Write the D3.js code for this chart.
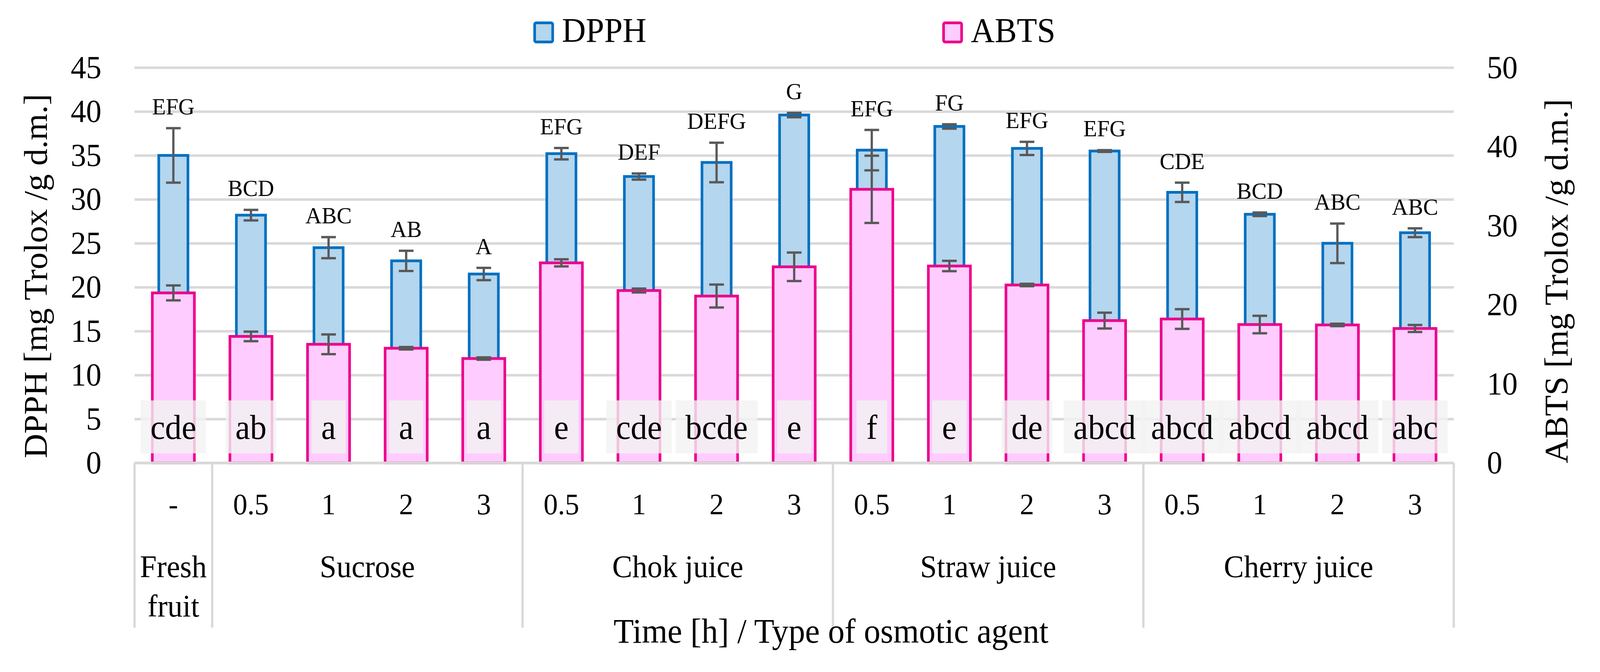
<!DOCTYPE html>
<html>
<head>
<meta charset="utf-8">
<script src="https://cdn.jsdelivr.net/npm/d3@7"></script>
<style>
  html, body { margin: 0; padding: 0; background: #fff; overflow: hidden; }
  #chart { width: 100vw; height: 100vh; }
  svg { display: block; width: 100%; height: 100%; font-family: "Liberation Serif", "Times New Roman", serif; }
</style>
</head>
<body>
<div id="chart"></div>
<script>
// categories (two-level axis)
const timeLabels = ['-', '0.5', '1', '2', '3', '0.5', '1', '2', '3', '0.5', '1', '2', '3', '0.5', '1', '2', '3'];
const agentLabels = ['Fresh fruit',
    'Sucrose', 'Sucrose', 'Sucrose', 'Sucrose',
    'Chok juice', 'Chok juice', 'Chok juice', 'Chok juice',
    'Straw juice', 'Straw juice', 'Straw juice', 'Straw juice',
    'Cherry juice', 'Cherry juice', 'Cherry juice', 'Cherry juice'];

// DPPH (left axis) and ABTS (right axis), mg Trolox / g d.m.
const dpph    = [35.0, 28.2, 24.5, 23.0, 21.5, 35.2, 32.6, 34.2, 39.6, 35.6, 38.3, 35.8, 35.5, 30.8, 28.3, 25.0, 26.2];
const dpphErr = [3.1, 0.6, 1.2, 1.15, 0.7, 0.65, 0.35, 2.25, 0.25, 2.3, 0.25, 0.75, 0.1, 1.1, 0.2, 2.25, 0.5];
const abts    = [21.5, 16.0, 15.0, 14.5, 13.2, 25.3, 21.8, 21.1, 24.8, 34.6, 24.9, 22.5, 18.0, 18.2, 17.5, 17.45, 17.0];
const abtsErr = [0.95, 0.6, 1.25, 0.15, 0.15, 0.45, 0.25, 1.45, 1.8, 4.25, 0.65, 0.15, 1.0, 1.25, 1.1, 0.15, 0.45];

const dpphLetters = ['EFG', 'BCD', 'ABC', 'AB', 'A', 'EFG', 'DEF', 'DEFG', 'G', 'EFG', 'FG', 'EFG', 'EFG', 'CDE', 'BCD', 'ABC', 'ABC'];
const abtsLetters = ['cde', 'ab', 'a', 'a', 'a', 'e', 'cde', 'bcde', 'e', 'f', 'e', 'de', 'abcd', 'abcd', 'abcd', 'abcd', 'abc'];

const leftTicks = d3.range(0, 46, 5);
const rightTicks = d3.range(0, 51, 10);

const W = 4257, H = 1721;
const margin = { top: 173, right: 389, bottom: 535.5, left: 358 };
const innerW = W - margin.left - margin.right;
const innerH = H - margin.top - margin.bottom;

const BLUE = '#0070C0', BLUE_FILL = '#B4D6EE';
const PINK = '#EC008C', PINK_FILL = '#FFCCFF';
const GRID = '#D9D9D9', ERR = '#595959';

const svg = d3.select('#chart').append('svg')
    .attr('viewBox', [0, 0, W, H])
    .attr('preserveAspectRatio', 'none');

const g = svg.append('g').attr('transform', `translate(${margin.left},${margin.top})`);

const x = d3.scaleBand().domain(d3.range(timeLabels.length)).range([0, innerW]);
const yL = d3.scaleLinear().domain([0, 45]).range([innerH, 0]);
const yR = d3.scaleLinear().domain([0, 50]).range([innerH, 0]);
const cx = i => x(i) + x.bandwidth() / 2;

// left axis with gridlines
const leftAxis = g.append('g')
    .call(d3.axisLeft(yL).tickValues(leftTicks).tickSize(-innerW).tickPadding(88));
leftAxis.select('.domain').remove();
leftAxis.selectAll('.tick line').attr('stroke', GRID).attr('stroke-width', 6.5);
leftAxis.selectAll('.tick text').attr('font-size', 82).attr('fill', '#000')
    .attr('font-family', '"Liberation Serif", serif');

// right axis (labels only)
const rightAxis = g.append('g').attr('transform', `translate(${innerW},0)`)
    .call(d3.axisRight(yR).tickValues(rightTicks).tickSize(0).tickPadding(88));
rightAxis.select('.domain').remove();
rightAxis.selectAll('.tick text').attr('font-size', 82).attr('fill', '#000')
    .attr('font-family', '"Liberation Serif", serif');

const bw = x.bandwidth();
const blueW = bw * 0.41 - 7;
const pinkW = bw * 0.576 - 7;
const capW = 39;

function errorBars(sel, vals, errs, scale) {
    const eg = sel.selectAll('g').data(vals).join('g')
        .attr('stroke', ERR).attr('stroke-width', 6);
    eg.append('line')
        .attr('x1', (d, i) => cx(i)).attr('x2', (d, i) => cx(i))
        .attr('y1', (d, i) => scale(d - errs[i])).attr('y2', (d, i) => scale(d + errs[i]));
    eg.append('line')
        .attr('x1', (d, i) => cx(i) - capW / 2).attr('x2', (d, i) => cx(i) + capW / 2)
        .attr('y1', (d, i) => scale(d + errs[i])).attr('y2', (d, i) => scale(d + errs[i]));
    eg.append('line')
        .attr('x1', (d, i) => cx(i) - capW / 2).attr('x2', (d, i) => cx(i) + capW / 2)
        .attr('y1', (d, i) => scale(d - errs[i])).attr('y2', (d, i) => scale(d - errs[i]));
}

// DPPH bars
g.append('g').selectAll('rect').data(dpph).join('rect')
    .attr('x', (d, i) => cx(i) - blueW / 2)
    .attr('width', blueW)
    .attr('y', d => yL(d))
    .attr('height', d => innerH - yL(d))
    .attr('fill', BLUE_FILL).attr('stroke', BLUE).attr('stroke-width', 7);
errorBars(g.append('g'), dpph, dpphErr, yL);

// ABTS bars
g.append('g').selectAll('rect').data(abts).join('rect')
    .attr('x', (d, i) => cx(i) - pinkW / 2)
    .attr('width', pinkW)
    .attr('y', d => yR(d))
    .attr('height', d => innerH - yR(d))
    .attr('fill', PINK_FILL).attr('stroke', PINK).attr('stroke-width', 7);
errorBars(g.append('g'), abts, abtsErr, yR);

// ABTS letters in translucent boxes
const lowG = g.append('g');
const lowItems = lowG.selectAll('g').data(abtsLetters).join('g');
lowItems.append('rect').attr('class', 'box');
lowItems.append('text')
    .attr('x', (d, i) => cx(i))
    .attr('y', innerH - 61.5)
    .attr('text-anchor', 'middle')
    .attr('font-size', 88)
    .text(d => d);
lowItems.each(function () {
    const t = d3.select(this).select('text');
    const tw = t.node().getComputedTextLength();
    d3.select(this).select('rect')
        .attr('x', +t.attr('x') - tw / 2 - 26)
        .attr('width', tw + 52)
        .attr('y', innerH - 160)
        .attr('height', 135.5)
        .attr('fill', '#F2F2F2').attr('fill-opacity', 0.8);
});

// DPPH letters above the error bars
g.append('g').selectAll('text').data(dpphLetters).join('text')
    .attr('x', (d, i) => cx(i))
    .attr('y', (d, i) => yL(dpph[i] + dpphErr[i]) - 35)
    .attr('text-anchor', 'middle')
    .attr('font-size', 60)
    .text(d => d);

// category axis
const axisG = g.append('g').attr('transform', `translate(0,${innerH})`);
axisG.append('line')
    .attr('x1', 0).attr('x2', innerW)
    .attr('stroke', GRID).attr('stroke-width', 6.5);

const groups = [];
agentLabels.forEach((a, i) => {
    const last = groups[groups.length - 1];
    if (last && last.name === a) last.end = i;
    else groups.push({ name: a, start: i, end: i });
});

const bounds = [0, ...groups.map(gr => x(gr.end) + bw)];
axisG.selectAll('.sep').data(bounds).join('line')
    .attr('class', 'sep')
    .attr('x1', d => d).attr('x2', d => d)
    .attr('y1', 0).attr('y2', 422)
    .attr('stroke', GRID).attr('stroke-width', 6);

axisG.selectAll('.time').data(timeLabels).join('text')
    .attr('class', 'time')
    .attr('x', (d, i) => cx(i))
    .attr('y', 132)
    .attr('text-anchor', 'middle')
    .attr('font-size', 76)
    .text(d => d);

const grpText = axisG.selectAll('.grp').data(groups).join('text')
    .attr('class', 'grp')
    .attr('text-anchor', 'middle')
    .attr('font-size', 80);
grpText.each(function (d) {
    const mid = (x(d.start) + x(d.end) + bw) / 2;
    const words = d.end === d.start ? d.name.split(' ') : [d.name];
    d3.select(this).selectAll('tspan').data(words).join('tspan')
        .attr('x', mid)
        .attr('y', (w, k) => 292.5 + k * 101)
        .text(w => w);
});

// axis titles
svg.append('text')
    .attr('transform', 'translate(125,707) rotate(-90)')
    .attr('text-anchor', 'middle')
    .attr('font-size', 87)
    .text('DPPH [mg Trolox /g d.m.]');

svg.append('text')
    .attr('transform', 'translate(4171,720) rotate(-90)')
    .attr('text-anchor', 'middle')
    .attr('font-size', 87)
    .text('ABTS [mg Trolox /g d.m.]');

svg.append('text')
    .attr('x', 2211).attr('y', 1646)
    .attr('text-anchor', 'middle')
    .attr('font-size', 88)
    .text('Time [h] / Type of osmotic agent');

// legend
const legend = [
    { name: 'DPPH', fill: BLUE_FILL, stroke: BLUE, x: 1419 },
    { name: 'ABTS', fill: PINK_FILL, stroke: PINK, x: 2507 }
];
const lg = svg.append('g').selectAll('g').data(legend).join('g');
lg.append('rect')
    .attr('x', d => d.x + 3.5).attr('y', 58.5)
    .attr('width', 48).attr('height', 49)
    .attr('rx', 4)
    .attr('fill', d => d.fill).attr('stroke', d => d.stroke).attr('stroke-width', 7);
lg.append('text')
    .attr('x', d => d.x + 76).attr('y', 107)
    .attr('font-size', 88)
    .text(d => d.name);
</script>
</body>
</html>
